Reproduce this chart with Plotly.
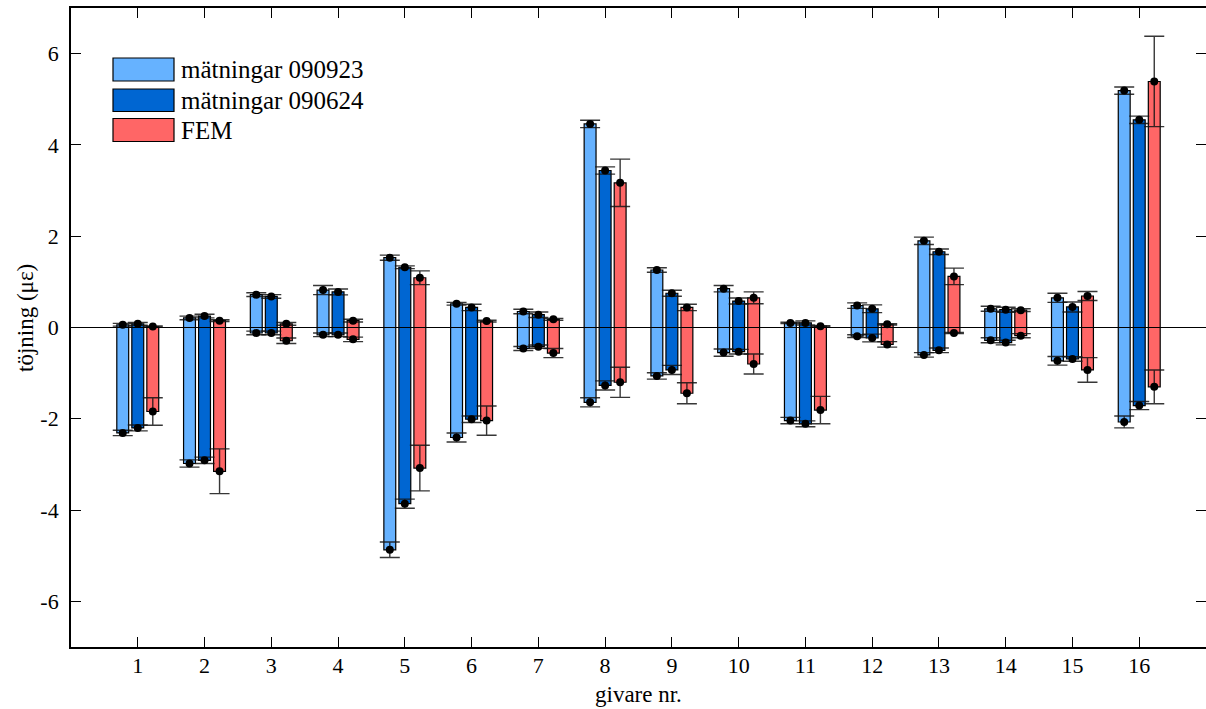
import plotly.graph_objects as go

# Sensor numbers ("givare") and measured / computed strain ranges
givare = list(range(1, 17))

series_names = ["mätningar 090923", "mätningar 090624", "FEM"]

# mätningar 090923
m0923_max = [0.06, 0.21, 0.72, 0.82, 1.53, 0.52, 0.35, 4.46, 1.26, 0.85, 0.10, 0.48, 1.90, 0.41, 0.65, 5.19]
m0923_min = [-2.31, -2.98, -0.12, -0.16, -4.87, -2.41, -0.46, -1.64, -1.06, -0.55, -2.04, -0.19, -0.60, -0.28, -0.73, -2.07]
m0923_err_max = [0.03, 0.04, 0.04, 0.10, 0.055, 0.03, 0.05, 0.08, 0.05, 0.07, 0.015, 0.06, 0.08, 0.055, 0.10, 0.08]
m0923_err_min = [0.06, 0.08, 0.04, 0.04, 0.17, 0.10, 0.045, 0.10, 0.07, 0.08, 0.07, 0.03, 0.05, 0.055, 0.095, 0.13]

# mätningar 090624
m0624_max = [0.08, 0.25, 0.68, 0.78, 1.32, 0.44, 0.28, 3.44, 0.75, 0.58, 0.10, 0.41, 1.66, 0.39, 0.45, 4.55]
m0624_min = [-2.20, -2.91, -0.12, -0.16, -3.86, -2.01, -0.42, -1.27, -0.93, -0.53, -2.11, -0.23, -0.50, -0.33, -0.69, -1.71]
m0624_err_max = [0.03, 0.04, 0.04, 0.065, 0.03, 0.07, 0.06, 0.08, 0.065, 0.065, 0.045, 0.085, 0.06, 0.055, 0.11, 0.08]
m0624_err_min = [0.065, 0.07, 0.04, 0.04, 0.10, 0.07, 0.035, 0.10, 0.10, 0.05, 0.065, 0.085, 0.05, 0.05, 0.05, 0.09]

# FEM
fem_max = [0.02, 0.15, 0.08, 0.15, 1.09, 0.14, 0.18, 3.17, 0.44, 0.65, 0.03, 0.07, 1.12, 0.38, 0.69, 5.39]
fem_min = [-1.84, -3.15, -0.29, -0.26, -3.08, -2.04, -0.56, -1.20, -1.44, -0.80, -1.81, -0.37, -0.12, -0.18, -0.93, -1.30]
fem_err_max = [0.015, 0.02, 0.03, 0.03, 0.15, 0.02, 0.02, 0.52, 0.07, 0.13, 0.01, 0.015, 0.18, 0.03, 0.10, 0.99]
fem_err_min = [0.30, 0.49, 0.06, 0.05, 0.50, 0.32, 0.10, 0.33, 0.23, 0.22, 0.30, 0.06, 0.01, 0.045, 0.27, 0.37]

y_ticks = [-6, -4, -2, 0, 2, 4, 6]

# styling
colors = ["#66B2FF", "#0066D2", "#FF6666"]
offsets = [-0.225, 0.0, 0.225]
bar_w = 0.178
FONT = "Liberation Serif, Times New Roman, DejaVu Serif, serif"
FS = 22

W, H = 1206, 709
ML, MR, MT, MB = 71, 0, 8, 62

series = [
    (m0923_max, m0923_min, m0923_err_max, m0923_err_min),
    (m0624_max, m0624_min, m0624_err_max, m0624_err_min),
    (fem_max, fem_min, fem_err_max, fem_err_min),
]

fig = go.Figure()

# floating range bars
for (ymax, ymin, _, _), col, off, name in zip(series, colors, offsets, series_names):
    fig.add_trace(go.Bar(
        x=[g + off for g in givare],
        y=[a - b for a, b in zip(ymax, ymin)],
        base=ymin,
        width=bar_w,
        marker=dict(color=col, line=dict(color="black", width=1.2)),
        name=name,
        showlegend=False,
    ))

# end points with error bars
for (ymax, ymin, emax, emin), off in zip(series, offsets):
    xs = [g + off for g in givare]
    fig.add_trace(go.Scatter(
        x=xs + xs,
        y=ymax + ymin,
        mode="markers",
        marker=dict(color="black", size=8),
        error_y=dict(type="data", symmetric=True, array=emax + emin,
                     color="rgba(20,20,20,0.85)", thickness=1.4, width=10),
        showlegend=False,
        hoverinfo="skip",
    ))

# invisible trace carrying the right-hand tick axis
fig.add_trace(go.Scatter(x=[None], y=[None], yaxis="y2", showlegend=False,
                         hoverinfo="skip"))

plot_w = W - ML - MR
plot_h = H - MT - MB


def px_x(px):
    return (px - ML) / plot_w


def px_y(py):
    return (H - MB - py) / plot_h


shapes = [
    # zero reference line
    dict(type="line", xref="paper", yref="y", x0=0, x1=1, y0=0, y1=0,
         line=dict(color="black", width=1.2), layer="above"),
]

annotations = []

# legend drawn as swatches with labels
leg_rows = [(58, 81), (89, 111.5), (118.5, 141.5)]
for (top, bot), col, name in zip(leg_rows, colors, series_names):
    shapes.append(dict(type="rect", xref="paper", yref="paper",
                       x0=px_x(113), x1=px_x(174), y0=px_y(bot), y1=px_y(top),
                       fillcolor=col, line=dict(color="black", width=1.2)))
    annotations.append(dict(xref="paper", yref="paper", x=px_x(179), y=px_y((top + bot) / 2),
                            text=name, showarrow=False, xanchor="left", yanchor="middle",
                            font=dict(family=FONT, size=25, color="black")))

# axis titles
annotations.append(dict(xref="paper", yref="paper", x=px_x(25), y=px_y(318),
                        text="töjning (με)", textangle=-90, showarrow=False,
                        xanchor="center", yanchor="middle",
                        font=dict(family=FONT, size=23, color="black")))
annotations.append(dict(xref="paper", yref="paper", x=0.5, y=px_y(694),
                        text="givare nr.", showarrow=False,
                        xanchor="center", yanchor="middle",
                        font=dict(family=FONT, size=23, color="black")))

axis_font = dict(family=FONT, size=FS, color="black")

fig.update_layout(
    width=W, height=H,
    margin=dict(l=ML, r=MR, t=MT, b=MB, pad=0),
    paper_bgcolor="white", plot_bgcolor="white",
    barmode="overlay",
    shapes=shapes,
    annotations=annotations,
    font=dict(family=FONT, size=FS, color="black"),
    xaxis=dict(range=[0, 17], tickvals=givare, ticktext=[str(g) for g in givare],
               ticks="inside", ticklen=10, tickwidth=1, tickcolor="black",
               showline=True, linecolor="black", linewidth=1.8, mirror="ticks",
               showgrid=False, zeroline=False, tickfont=axis_font,
               ticklabelstandoff=-2),
    yaxis=dict(range=[-7, 7], tickvals=y_ticks, ticktext=[str(v) for v in y_ticks],
               ticks="inside", ticklen=10, tickwidth=1, tickcolor="black",
               showline=True, linecolor="black", linewidth=1.8,
               showgrid=False, zeroline=False, tickfont=axis_font,
               ticklabelstandoff=6),
    yaxis2=dict(overlaying="y", side="right", range=[-7, 7], tickvals=y_ticks,
                showticklabels=False, ticks="inside", ticklen=10, tickwidth=1,
                tickcolor="black", showline=False, showgrid=False, zeroline=False),
)

fig.write_html("out.html")
